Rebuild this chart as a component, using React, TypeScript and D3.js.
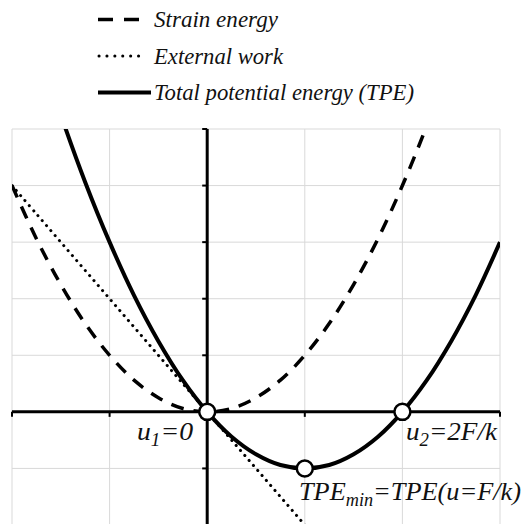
import React from "react"
import * as d3 from "d3"

// displacement u (in units of F/k) and energies
const uValues = [-2, -1.75, -1.5, -1.25, -1, -0.75, -0.5, -0.25, 0, 0.25, 0.5, 0.75, 1, 1.25, 1.5, 1.75, 2, 2.25, 2.5, 2.75, 3]
const strainEnergy = [4, 3.06, 2.25, 1.56, 1, 0.56, 0.25, 0.06, 0, 0.06, 0.25, 0.56, 1, 1.56, 2.25, 3.06, 4, 5.06, 6.25, 7.56, 9]
const externalWork = [4, 3.5, 3, 2.5, 2, 1.5, 1, 0.5, 0, -0.5, -1, -1.5, -2, -2.5, -3, -3.5, -4, -4.5, -5, -5.5, -6]
const totalPE = [8, 6.56, 5.25, 4.06, 3, 2.06, 1.25, 0.56, 0, -0.44, -0.75, -0.94, -1, -0.94, -0.75, -0.44, 0, 0.56, 1.25, 2.06, 3]

const xGrid = [-2, -1, 0, 1, 2, 3]
const yGrid = [-2, -1, 0, 1, 2, 3, 4, 5]

// special points: [u, energy]
const markers: [number, number][] = [[0, 0], [2, 0], [1, -1]]

const legendItems = [
  { label: "Strain energy", dash: "dash", len: 124 },
  { label: "External work", dash: "dot", len: 129 },
  { label: "Total potential energy (TPE)", dash: "solid", len: 260 },
]

const W = 523
const H = 524
const SERIF = "Liberation Serif"

const App: React.FC = () => {
  const x = d3.scaleLinear().domain([-2, 3]).range([12, 500])
  const y = d3.scaleLinear().domain([-2, 5]).range([525, 129])

  const mkLine = (vals: number[]) =>
    d3.line<number>()
      .x((_, i) => x(uValues[i]))
      .y((d) => y(d))
      .curve(d3.curveCatmullRom)(vals) || ""

  const x0 = x(0)
  const y0 = y(0)

  return (
    <div style={{ position: "absolute", left: 0, top: 0 }}>
      <svg width={W} height={H}>
        <defs>
          <clipPath id="plot-clip">
            <rect x={x(-2)} y={y(5)} width={x(3) - x(-2)} height={y(-2) - y(5)} />
          </clipPath>
        </defs>

        {/* legend */}
        {legendItems.map((d, i) => {
          const ly = 19.5 + i * 36.5
          const lx0 = 98
          return (
            <g key={d.label}>
              {d.dash === "dash" && (
                <line x1={lx0} x2={139} y1={ly} y2={ly} stroke="#000" strokeWidth={3.5} strokeDasharray="15 11" />
              )}
              {d.dash === "dot" && (
                <line x1={lx0 + 1} x2={146} y1={ly} y2={ly} stroke="#000" strokeWidth={3} strokeLinecap="round" strokeDasharray="0.1 7.8" />
              )}
              {d.dash === "solid" && (
                <line x1={lx0} x2={151} y1={ly} y2={ly} stroke="#000" strokeWidth={4} />
              )}
              <text x={154} y={ly + 7.5} fill="#111" fontFamily={SERIF} fontStyle="italic" fontSize={23}
                textLength={d.len} lengthAdjust="spacingAndGlyphs">{d.label}</text>
            </g>
          )
        })}

        {/* grid */}
        <g stroke="#d9d9d9" strokeWidth={1}>
          {xGrid.map((v) => (
            <line key={"gx" + v} x1={x(v)} x2={x(v)} y1={y(5)} y2={y(-2)} />
          ))}
          {yGrid.map((v) => (
            <line key={"gy" + v} x1={x(-2)} x2={x(3)} y1={y(v)} y2={y(v)} />
          ))}
        </g>

        {/* axes */}
        <g stroke="#000">
          <line x1={x(-2)} x2={x(3)} y1={y0} y2={y0} strokeWidth={3} />
          <line x1={x0} x2={x0} y1={y(5)} y2={y(-2)} strokeWidth={3} />
          {xGrid.map((v) => (
            <line key={"tx" + v} x1={x(v)} x2={x(v)} y1={y0} y2={y0 + 5} strokeWidth={2} />
          ))}
          {yGrid.filter((v) => v > -2).map((v) => (
            <line key={"ty" + v} x1={x0 - 5} x2={x0} y1={y(v)} y2={y(v)} strokeWidth={2} />
          ))}
        </g>

        {/* curves */}
        <g clipPath="url(#plot-clip)" fill="none" stroke="#000">
          <path d={mkLine(strainEnergy)} strokeWidth={3.5} strokeDasharray="13 10" />
          <path d={mkLine(externalWork)} strokeWidth={3} strokeLinecap="round" strokeDasharray="0.1 6.5" />
          <path d={mkLine(totalPE)} strokeWidth={4} />
        </g>

        {/* points */}
        {markers.map(([u, e]) => (
          <circle key={u + "," + e} cx={x(u)} cy={y(e)} r={8} fill="#fff" stroke="#000" strokeWidth={2.5} />
        ))}

        {/* annotations */}
        <text x={137} y={440} textLength={56} lengthAdjust="spacingAndGlyphs"
          fill="#111" fontFamily={SERIF} fontStyle="italic" fontSize={26}>
          u<tspan fontSize={18} dy={6}>1</tspan><tspan dy={-6}>=0</tspan>
        </text>
        <text x={406} y={440} textLength={91} lengthAdjust="spacingAndGlyphs"
          fill="#111" fontFamily={SERIF} fontStyle="italic" fontSize={26}>
          u<tspan fontSize={18} dy={6}>2</tspan><tspan dy={-6}>=2F/k</tspan>
        </text>
        <text x={299} y={500} textLength={222} lengthAdjust="spacingAndGlyphs"
          fill="#111" fontFamily={SERIF} fontStyle="italic" fontSize={26}>
          TPE<tspan fontSize={18} dy={6}>min</tspan><tspan dy={-6}>=TPE(u=F/k)</tspan>
        </text>
      </svg>
    </div>
  )
}

export default App
